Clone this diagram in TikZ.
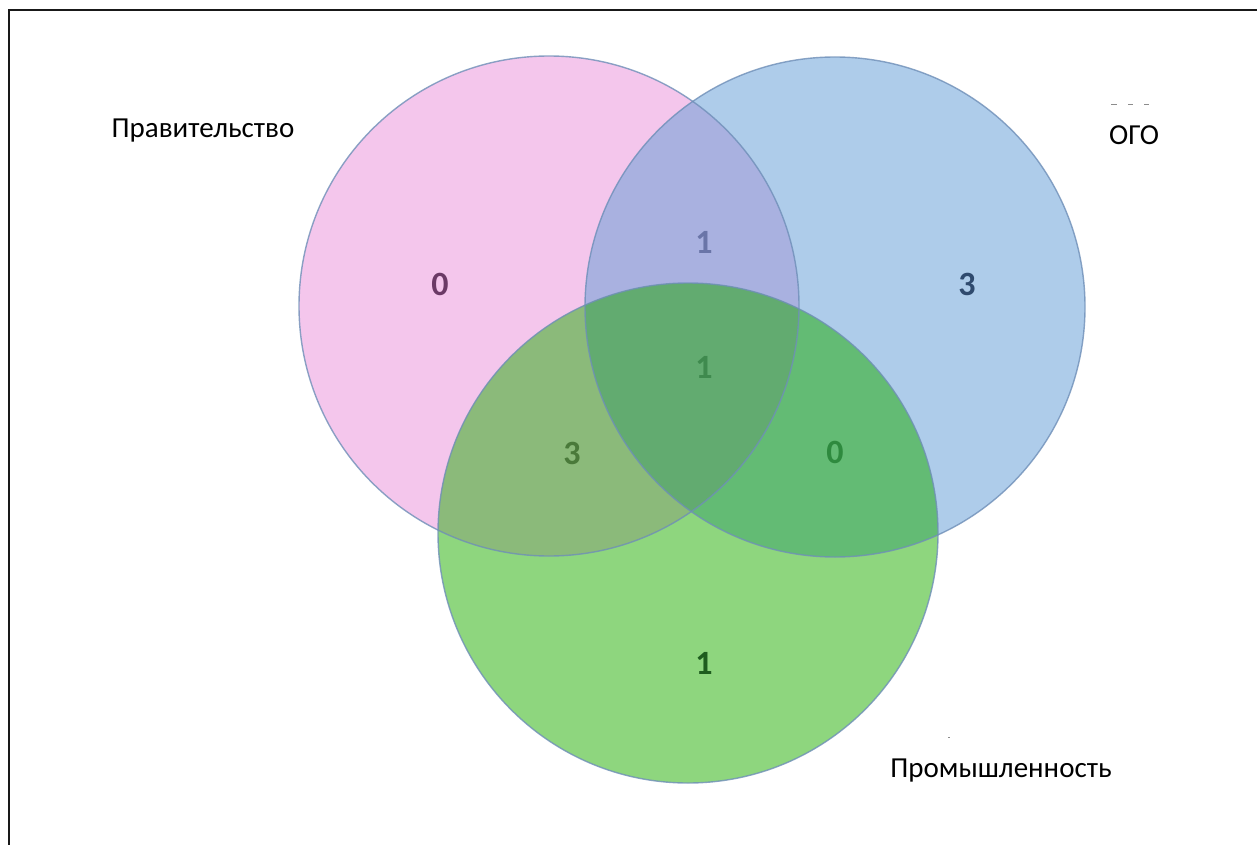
\documentclass[tikz,border=0pt]{standalone}
\usepackage{fontspec}
\setmainfont{Carlito}
\usetikzlibrary{positioning}

\definecolor{govfill}{HTML}{F4C6EC}
\definecolor{ngofill}{HTML}{AECCEA}
\definecolor{indfill}{HTML}{8ED67E}
\definecolor{gnfill}{HTML}{A9B1E0}
\definecolor{gifill}{HTML}{8BBA7A}
\definecolor{nifill}{HTML}{63BB74}
\definecolor{allfill}{HTML}{62AB70}
\definecolor{rim}{HTML}{6F8FB8}
\definecolor{govtext}{HTML}{6B3A66}
\definecolor{ngotext}{HTML}{2F4A6E}
\definecolor{indtext}{HTML}{1E5C1E}
\definecolor{gntext}{HTML}{6A75A8}
\definecolor{gitext}{HTML}{4A7A3A}
\definecolor{nitext}{HTML}{2E8A3E}
\definecolor{alltext}{HTML}{3F8A4E}

\begin{document}
\begin{tikzpicture}[x=1pt,y=-1pt,
    set/.style={draw=rim,draw opacity=0.8,line width=1.4pt},
    count/.style={anchor=base,font=\fontsize{34}{38}\selectfont\bfseries},
    setname/.style={anchor=base,font=\fontsize{29}{33}\selectfont},
    frame/.style={draw=black!90,line width=2.5pt},
    cut/.style={draw=black!45,line width=1pt}]
    \def\rr{250pt}
    \useasboundingbox (0,0) rectangle (1257,845);
    \fill[white] (0,0) rectangle (1257,845);
    \draw[frame] (1257,10) -- (9,10) -- (9,845);

    \coordinate (gov) at (549,306);
    \coordinate (ngo) at (835,307);
    \coordinate (ind) at (688,533);

    % regions
    \fill[govfill] (gov) circle[radius=\rr];
    \fill[ngofill] (ngo) circle[radius=\rr];
    \fill[indfill] (ind) circle[radius=\rr];
    \begin{scope}
        \clip (gov) circle[radius=\rr];
        \fill[gnfill] (ngo) circle[radius=\rr];
        \fill[gifill] (ind) circle[radius=\rr];
    \end{scope}
    \begin{scope}
        \clip (ngo) circle[radius=\rr];
        \fill[nifill] (ind) circle[radius=\rr];
    \end{scope}
    \begin{scope}
        \clip (gov) circle[radius=\rr];
        \clip (ngo) circle[radius=\rr];
        \fill[allfill] (ind) circle[radius=\rr];
    \end{scope}
    \draw[set] (gov) circle[radius=\rr];
    \draw[set] (ngo) circle[radius=\rr];
    \draw[set] (ind) circle[radius=\rr];

    % counts
    \node[count,text=govtext] (c1) at (440,295) {0};
    \node[count,text=ngotext] (c2) at (967,295) {3};
    \node[count,text=indtext] (c3) at (704,674) {1};
    \node[count,text=gntext] (c4) at (704,253) {1};
    \node[count,text=gitext] (c5) at (572,464) {3};
    \node[count,text=nitext] (c6) at (835,463) {0};
    \node[count,text=alltext] (c7) at (704,378) {1};

    % set names
    \node[setname] (gov label) at (203,138) {Правительство};
    \node[setname] (ngo label) at (1134,145) {ОГО};
    \node[setname] (ind label) at (1001,777) {Промышленность};
    \draw[cut] (1111,105) -- (1117,105) (1128,105) -- (1133,105) (1144,105) -- (1149,105);
    \draw[cut] (948,737) -- (950,737);
\end{tikzpicture}
\end{document}
